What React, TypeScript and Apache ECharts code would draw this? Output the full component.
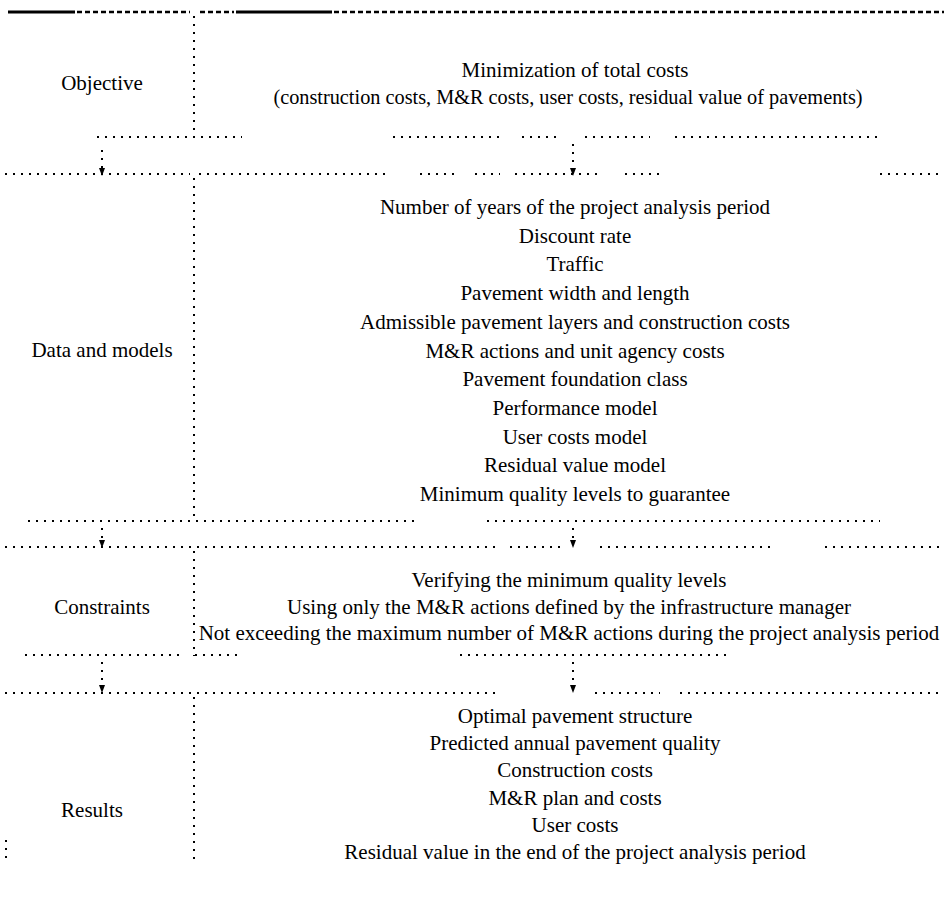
import React, { useEffect, useRef } from "react";
import * as echarts from "echarts";

const rowLabels = ["Objective", "Data and models", "Constraints", "Results"];
const objectiveLines = [
  "Minimization of total costs",
  "(construction costs, M&R costs, user costs, residual value of pavements)",
];
const dataLines = [
  "Number of years of the project analysis period",
  "Discount rate",
  "Traffic",
  "Pavement width and length",
  "Admissible pavement layers and construction costs",
  "M&R actions and unit agency costs",
  "Pavement foundation class",
  "Performance model",
  "User costs model",
  "Residual value model",
  "Minimum quality levels to guarantee",
];
const constraintLines = [
  "Verifying the minimum quality levels",
  "Using only the M&R actions defined by the infrastructure manager",
  "Not exceeding the maximum number of M&R actions during the project analysis period",
];
const resultLines = [
  "Optimal pavement structure",
  "Predicted annual pavement quality",
  "Construction costs",
  "M&R plan and costs",
  "User costs",
  "Residual value in the end of the project analysis period",
];

const FONT_FAMILY = "'Liberation Serif', 'Times New Roman', 'DejaVu Serif', serif";
const FONT_SIZE = 21;
const LEFT_X = 102;
const RIGHT_X = 575;
const DIV_X = 194;

function txt(text: string, x: number, y: number, size = FONT_SIZE) {
  return {
    type: "text",
    silent: true,
    style: {
      text,
      x,
      y,
      fill: "#000",
      fontFamily: FONT_FAMILY,
      fontSize: size,
      fontWeight: "normal",
      align: "center",
      verticalAlign: "middle",
    },
  };
}
function dotted(x1: number, y1: number, x2: number, y2: number) {
  return {
    type: "line",
    silent: true,
    shape: { x1, y1, x2, y2 },
    style: { stroke: "#000", lineWidth: 2, lineDash: [2, 6] },
  };
}
function solid(x1: number, y1: number, x2: number, y2: number, w = 3) {
  return { type: "line", silent: true, shape: { x1, y1, x2, y2 }, style: { stroke: "#000", lineWidth: w } };
}
function dashed(x1: number, y1: number, x2: number, y2: number) {
  return { type: "line", silent: true, shape: { x1, y1, x2, y2 }, style: { stroke: "#000", lineWidth: 2.5, lineDash: [5, 3] } };
}
function arrow(x: number, y: number) {
  return {
    type: "polygon",
    silent: true,
    shape: { points: [[x - 3, y - 6], [x + 3, y - 6], [x, y + 2]] },
    style: { fill: "#000" },
  };
}
function connector(x: number, y1: number, y2: number) {
  return [dotted(x, y1, x, y2 - 6), arrow(x, y2 - 2)];
}
function hrule(y: number, segs: number[][]) {
  return segs.map(([a, b]) => dotted(a, y, b, y));
}

export default function App() {
  const ref = useRef<HTMLDivElement>(null);
  useEffect(() => {
    if (!ref.current) return;
    const chart = echarts.init(ref.current, null, { renderer: "svg" });
    const els: any[] = [];
    // top rule
    els.push(solid(8, 12, 75, 12), dashed(77, 12, 190, 12), dashed(200, 12, 234, 12), solid(236, 12, 332, 12), dashed(334, 12, 944, 12));
    // vertical divider
    els.push(dotted(DIV_X, 16, DIV_X, 130), dotted(DIV_X, 178, DIV_X, 520), dotted(DIV_X, 551, DIV_X, 656), dotted(DIV_X, 697, DIV_X, 862));
    els.push(dotted(6, 840, 6, 862));
    // objective block bottom rule
    els.push(...hrule(137, [[97, 242], [393, 500], [522, 560], [585, 650], [675, 880]]));
    els.push(...connector(LEFT_X, 150, 176), ...connector(RIGHT_X - 2, 144, 176));
    els.push(...hrule(174, [[5, 190], [199, 390], [420, 455], [475, 500], [515, 600], [625, 660], [880, 944]]));
    // data block
    els.push(...hrule(521, [[28, 416], [487, 880]]));
    els.push(...connector(LEFT_X, 528, 548), ...connector(RIGHT_X - 2, 528, 548));
    els.push(...hrule(547, [[5, 500], [510, 560], [600, 770], [825, 944]]));
    // constraints block
    els.push(...hrule(655, [[25, 180], [195, 240], [460, 730]]));
    els.push(...connector(LEFT_X, 662, 693), ...connector(RIGHT_X - 2, 662, 693));
    els.push(...hrule(693, [[5, 495], [595, 660], [680, 944]]));

    // labels
    els.push(txt(rowLabels[0], LEFT_X, 83));
    els.push(txt(rowLabels[1], LEFT_X, 350));
    els.push(txt(rowLabels[2], LEFT_X, 607));
    els.push(txt(rowLabels[3], 92, 810));

    els.push(txt(objectiveLines[0], RIGHT_X, 70));
    els.push(txt(objectiveLines[1], 568, 97, 20.3));
    dataLines.forEach((t, i) => els.push(txt(t, RIGHT_X, 207 + i * 28.7)));
    constraintLines.forEach((t, i) => els.push(txt(t, 569, 580 + i * 26.5)));
    resultLines.forEach((t, i) => els.push(txt(t, RIGHT_X, 716 + i * 27.2)));

    chart.setOption({
      animation: false,
      backgroundColor: "#fff",
      textStyle: { fontFamily: FONT_FAMILY },
      graphic: { elements: els },
    });
    return () => chart.dispose();
  }, []);
  return (
    <div
      ref={ref}
      style={{ position: "fixed", left: 0, top: 0, width: 944, height: 899, background: "#fff" }}
    />
  );
}
